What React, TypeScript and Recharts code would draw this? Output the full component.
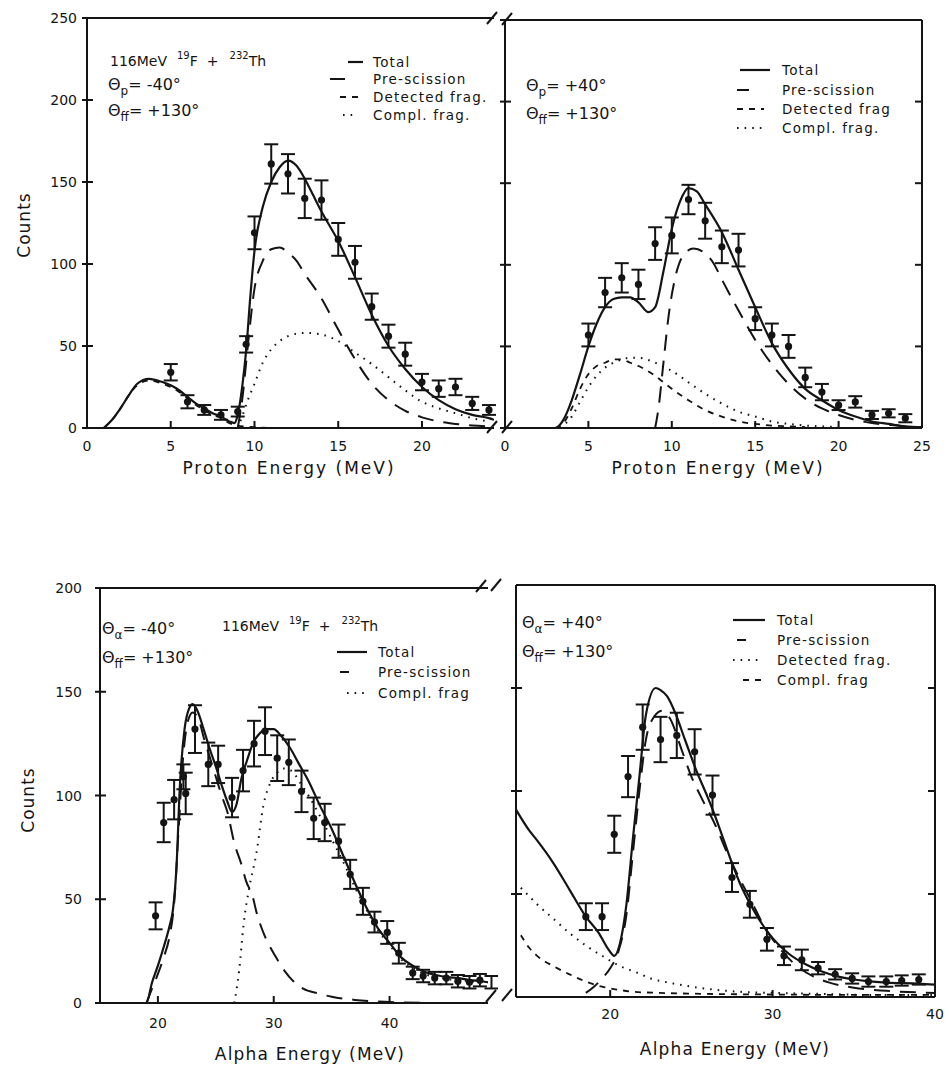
import React from "react";
import { ComposedChart, Line, Scatter, ErrorBar, XAxis, YAxis } from "recharts";

const FONT = "'DejaVu Sans', 'Liberation Sans', sans-serif";
const INK = "#141414";

// ---------- protons, theta_p = -40 (top left) ----------
const tlPoints: [number, number, number][] = [
  [5, 34, 5], [6, 16, 4], [7, 11, 3], [8, 8, 3], [9, 10, 3], [9.5, 51, 5],
  [10, 119, 10], [11, 161, 12], [12, 155, 12], [13, 140, 12], [14, 139, 12],
  [15, 115, 10], [16, 101, 10], [17, 74, 8], [18, 56, 7], [19, 45, 7],
  [20, 28, 5], [21, 24, 5], [22, 25, 5], [23, 15, 4], [24, 11, 3],
];
const tlTotal: [number, number][] = [
  [1, 0], [1.5, 5], [2, 12], [2.5, 20], [3, 27], [3.7, 30], [4.5, 28], [5, 26],
  [5.5, 23], [6, 19], [6.5, 15], [7, 12], [7.5, 9], [8, 7], [8.5, 4], [8.8, 3],
  [9, 8], [9.3, 28], [9.5, 47], [9.75, 80], [10, 108], [10.5, 135], [11, 150],
  [11.5, 159], [12, 163], [12.5, 160], [13, 152], [13.5, 142], [14, 132],
  [15, 114], [16, 92], [17, 69], [18, 50], [19, 36], [20, 25], [21, 17],
  [22, 11.5], [23, 8], [24, 6], [24.3, 5],
];
const tlPre: [number, number][] = [
  [9, 0], [9.3, 20], [9.6, 50], [10, 85], [10.5, 102], [11, 109], [11.5, 110],
  [12, 107], [12.5, 102], [13, 94], [14, 79], [15, 60], [16, 42], [17, 27],
  [18, 17], [19, 10.5], [20, 6.5], [21, 4], [22, 2.5], [23, 1.5], [24, 1],
];
const tlDetected: [number, number][] = [
  [1, 0], [1.5, 5], [2, 12], [2.5, 20], [3, 26], [3.7, 29], [4.5, 27], [5, 25],
  [5.5, 22], [6, 18], [6.5, 14], [7, 11], [7.5, 8], [8, 6], [8.5, 3], [9, 1.5],
  [10, 0.5], [11, 0],
];
const tlCompl: [number, number][] = [
  [9, 0], [9.3, 8], [9.6, 17], [10, 27], [10.5, 40], [11, 48], [11.5, 53],
  [12, 56], [13, 58], [14, 57], [15, 53], [16, 46], [17, 39], [18, 31],
  [19, 23], [20, 16], [21, 12], [22, 9], [23, 6], [24, 4],
];

// ---------- protons, theta_p = +40 (top right) ----------
const trPoints: [number, number, number][] = [
  [5, 57, 7], [6, 83, 9], [7, 92, 9], [8, 88, 9], [9, 113, 10], [10, 118, 11],
  [11, 140, 9], [12, 127, 11], [13, 111, 10], [14, 109, 10], [15, 67, 7],
  [16, 57, 7], [17, 50, 7], [18, 31, 6], [19, 22, 5], [20, 14, 3], [21, 16, 3.5],
  [22, 8, 2.5], [23, 9, 2.5], [24, 6, 2.5],
];
const trTotal: [number, number][] = [
  [0, 0], [3, 0], [3.5, 5], [4, 17], [4.5, 33], [5, 50], [5.5, 64], [6, 74],
  [6.5, 79], [7, 80], [7.5, 80], [8, 77], [8.6, 71], [9, 74], [9.5, 96],
  [10, 122], [10.5, 139], [11, 147], [11.5, 145], [12, 137], [13, 120],
  [14, 97], [15, 74], [16, 52], [17, 36], [18, 24], [19, 17], [20, 11], [21, 7],
  [22, 4], [23, 2.5], [24, 1], [25, 0.5],
];
const trPre: [number, number][] = [
  [9, 0], [9.2, 12], [9.5, 40], [9.8, 68], [10.2, 92], [10.7, 106], [11.3, 110],
  [12, 107], [12.5, 101], [13, 91], [14, 72], [15, 54], [16, 39], [17, 27],
  [18, 18], [19, 12], [20, 8], [21, 5], [22, 3], [23, 2], [24, 1], [25, 0.5],
];
const trDetected: [number, number][] = [
  [3, 0], [3.5, 3], [4, 12], [4.5, 24], [5, 33], [5.5, 38], [6, 40], [6.5, 42],
  [7, 42], [7.5, 40], [8, 38], [9, 32], [10, 24], [11, 17], [12, 11], [13, 7],
  [14, 4], [15, 2.5], [16, 1.5], [17, 1], [18, 0.5],
];
const trCompl: [number, number][] = [
  [3.3, 0], [4, 7], [4.5, 16], [5, 25], [5.5, 32], [6, 37], [6.5, 40], [7, 42],
  [7.5, 43], [8, 43], [9, 40], [10, 35], [11, 28], [12, 21], [13, 15], [14, 10],
  [15, 7], [16, 4], [17, 2.5], [18, 1.5], [19, 1], [20, 0.5],
];

// ---------- alphas, theta_a = -40 (bottom left) ----------
const blPoints: [number, number, number][] = [
  [19.8, 42, 6.5], [20.5, 87, 9.5], [21.4, 98, 9.5], [22.2, 109, 6], [22.4, 101, 10],
  [23.2, 132, 11.5], [24.35, 115, 10.5], [25.2, 115, 9], [26.4, 99, 9.5],
  [27.35, 112, 10], [28.3, 125, 11], [29.25, 131, 11.5], [30.3, 118, 11],
  [31.3, 116, 11], [32.4, 102, 10], [33.45, 89, 10], [34.4, 87, 9], [35.6, 78, 8],
  [36.6, 62, 7], [37.7, 49, 6.5], [38.7, 39, 5], [39.8, 34, 5.5], [40.8, 24, 5],
  [42, 14.5, 3], [42.9, 13, 3], [43.9, 12, 3], [44.9, 12, 3], [45.9, 10.5, 3],
  [46.9, 10, 3], [47.8, 11, 3], [48.8, 10, 3],
];
const blTotal: [number, number][] = [
  [15, 0], [19, 0], [19.5, 10], [20, 18], [20.5, 27], [21, 37], [21.3, 45],
  [21.6, 65], [21.9, 105], [22.3, 132], [22.7, 142], [23, 144], [23.4, 141],
  [24, 131], [24.5, 122], [25, 114], [25.5, 105], [26, 97], [26.4, 92],
  [26.8, 96], [27.2, 108], [27.7, 117], [28.2, 125], [28.8, 130], [29.4, 132],
  [30, 132], [30.6, 129], [31.4, 123], [32.2, 115], [33, 107], [34, 95],
  [35, 84], [36, 71], [37, 58], [38, 46], [39, 36], [40, 29], [41, 22], [42, 18],
  [43, 15], [44, 13.5], [45, 12.5], [46, 12], [47, 11], [48, 10.5], [48.5, 10],
];
const blPre: [number, number][] = [
  [19, 0], [19.5, 7], [20, 14], [20.5, 22], [21, 32], [21.4, 48], [21.8, 85],
  [22.2, 120], [22.6, 136], [23, 140], [23.5, 137], [24, 127], [24.5, 118],
  [25, 109], [25.5, 100], [26, 92], [26.6, 77], [27.2, 67], [27.6, 59],
  [28.2, 51], [28.5, 44], [29.1, 34], [30.2, 22], [31, 15], [31.6, 11],
  [32.5, 7], [33.9, 4.5], [35, 3], [37, 1.5], [40, 0.5], [44, 0],
];
const blCompl: [number, number][] = [
  [26.6, 0], [27, 15], [27.4, 38], [27.9, 56], [28.5, 72], [29.1, 95],
  [29.7, 106], [30.3, 111], [30.8, 113], [31.5, 112], [32.3, 106], [33, 100],
  [34, 90], [35, 79], [36, 68], [37, 56], [38, 45], [39, 35], [40, 28], [41, 21],
  [42, 17], [43, 14], [44, 12.5], [45, 11.5], [46, 11], [47, 10.5], [48.5, 10],
];

// ---------- alphas, theta_a = +40 (bottom right) ----------
const brPoints: [number, number, number][] = [
  [18.5, 39, 6.5], [19.5, 39, 6.5], [20.25, 79, 9], [21.1, 107, 10], [22, 131, 11],
  [23.1, 125, 11], [24.1, 127, 11], [25.2, 119, 11], [26.3, 98, 9.5],
  [27.5, 58, 7], [28.6, 45, 6.5], [29.65, 28, 5.5], [30.7, 20, 4.5],
  [31.8, 18, 5], [32.8, 14, 3], [33.85, 11, 2.5], [34.9, 9, 2.5], [35.9, 7.5, 2.5],
  [37, 7.5, 2.5], [37.95, 8, 2.5], [39, 8.5, 2.5],
];
const brTotal: [number, number][] = [
  [14.2, 91], [15, 81], [15.5, 76], [16.5, 65], [17.5, 52], [18.5, 39],
  [19.3, 31], [19.9, 23], [20.25, 20], [20.6, 26], [21, 45], [21.4, 77],
  [21.8, 107], [22.2, 137], [22.8, 150], [23.1, 149], [23.5, 146], [24, 138],
  [24.6, 125], [25.3, 110], [26, 97], [26.5, 87], [27, 76], [27.5, 65], [28, 55],
  [28.7, 44], [29.75, 31], [31, 21], [32, 16], [33, 12.5], [34, 10], [35, 8.5],
  [37, 7], [39, 6.5], [40, 6],
];
const brPre: [number, number][] = [
  [18.5, 2], [19, 5], [19.5, 9], [20, 14], [20.5, 22], [21, 40], [21.4, 70],
  [21.8, 100], [22.2, 125], [22.7, 136], [23.2, 139], [23.7, 135], [24.4, 120],
  [25, 107], [25.6, 97], [26.5, 83], [27.2, 70], [28, 57], [28.6, 48],
  [29.5, 34], [30.5, 23], [31.5, 15], [32.5, 10], [33.5, 7], [35, 4.5],
  [37, 3], [40, 2],
];
const brDetected: [number, number][] = [
  [14.5, 53], [15, 49], [15.5, 45], [16.5, 38], [17.5, 31], [18.5, 25],
  [19.5, 20], [20.6, 15], [21.6, 12], [22.5, 9], [23.6, 7], [25, 5],
  [26.5, 3.5], [28, 2.5], [30, 2], [33, 1.5], [36, 1], [40, 1],
];
const brCompl: [number, number][] = [
  [14.5, 30], [15, 24], [15.5, 20], [16.5, 15], [17.5, 11], [18.5, 7.5],
  [19.5, 5], [20.5, 3.5], [21.5, 2.5], [23, 2], [26, 1.5], [30, 1.2], [35, 1],
  [40, 1],
];

// tick values
const protonLabelsL = [0, 5, 10, 15, 20];
const protonLabelsR = [0, 5, 10, 15, 20, 25];
const protonTop = [5, 10, 15, 20];
const protonCounts = [0, 50, 100, 150, 200, 250];
const alphaLabels = [20, 30, 40];
const alphaCounts = [0, 50, 100, 150, 200];

const STYLE: Record<string, { dash?: string; w: number }> = {
  total: { w: 2.2 },
  pre: { dash: "16 10", w: 2 },
  dash: { dash: "6 6", w: 1.8 },
  dot: { dash: "1.6 6", w: 2 },
};

const toLine = (pairs: [number, number][]) => pairs.map(([x, y]) => ({ x, y }));
const toPoints = (rows: [number, number, number][]) =>
  rows.map(([x, y, err]) => ({ x, y, err }));

function BottomTick(props: any) {
  const { x, y, payload, labelDy } = props;
  return (
    <g>
      <line x1={x} x2={x} y1={y} y2={y - 7} stroke={INK} strokeWidth={2} />
      <text x={x} y={y + labelDy} textAnchor="middle" fontSize={14} fontFamily={FONT} fill={INK}>
        {payload.value}
      </text>
    </g>
  );
}

function TopTick(props: any) {
  const { x, y } = props;
  return <line x1={x} x2={x} y1={y} y2={y + 7} stroke={INK} strokeWidth={2} />;
}

function LeftTick(props: any) {
  const { x, y, payload, showLabel, gap } = props;
  return (
    <g>
      <line x1={x - 5} x2={x + 6} y1={y} y2={y} stroke={INK} strokeWidth={2} />
      {showLabel && (
        <text x={x - gap} y={y + 5} textAnchor="end" fontSize={14} fontFamily={FONT} fill={INK}>
          {payload.value}
        </text>
      )}
    </g>
  );
}

function RightTick(props: any) {
  const { x, y } = props;
  return <line x1={x} x2={x - 7} y1={y} y2={y} stroke={INK} strokeWidth={2} />;
}

const Marker = (props: any) => <circle cx={props.cx} cy={props.cy} r={3.6} fill={INK} />;

type Curve = { data: [number, number][]; kind: string };

type PanelProps = {
  left: number;
  top: number;
  width: number;
  height: number;
  xDomain: [number, number];
  yDomain: [number, number];
  xLabels: number[];
  topTicks: number[];
  leftTicks: number[];
  showYLabels: boolean;
  yGap: number;
  labelDy: number;
  rightTicks: number[] | null;
  curves: Curve[];
  points: [number, number, number][];
};

function Panel(p: PanelProps) {
  const L = 50, R = 10, T = 10, B = 32;
  const axisLine = { stroke: INK, strokeWidth: 2 };
  return (
    <div style={{ position: "absolute", left: p.left - L, top: p.top - T }}>
      <ComposedChart
        width={p.width + L + R}
        height={p.height + T + B}
        margin={{ top: 0, right: 0, bottom: 0, left: 0 }}
      >
        <XAxis
          xAxisId="b"
          type="number"
          dataKey="x"
          domain={p.xDomain}
          ticks={p.xLabels}
          interval={0}
          height={B}
          allowDataOverflow
          tickSize={0}
          tickMargin={0}
          tickLine={false}
          axisLine={axisLine}
          tick={(t: any) => <BottomTick {...t} labelDy={p.labelDy} />}
        />
        <XAxis
          xAxisId="t"
          orientation="top"
          type="number"
          domain={p.xDomain}
          ticks={p.topTicks}
          interval={0}
          height={T}
          allowDataOverflow
          tickSize={0}
          tickMargin={0}
          tickLine={false}
          axisLine={axisLine}
          tick={(t: any) => <TopTick {...t} />}
        />
        <YAxis
          yAxisId="l"
          type="number"
          domain={p.yDomain}
          ticks={p.leftTicks}
          interval={0}
          width={L}
          allowDataOverflow
          tickSize={0}
          tickMargin={0}
          tickLine={false}
          axisLine={axisLine}
          tick={(t: any) => <LeftTick {...t} showLabel={p.showYLabels} gap={p.yGap} />}
        />
        <YAxis
          yAxisId="r"
          orientation="right"
          type="number"
          domain={p.yDomain}
          ticks={p.rightTicks ?? []}
          interval={0}
          width={R}
          allowDataOverflow
          tickSize={0}
          tickMargin={0}
          tickLine={false}
          axisLine={p.rightTicks ? axisLine : false}
          tick={p.rightTicks ? (t: any) => <RightTick {...t} /> : false}
        />
        {p.curves.map((c, i) => (
          <Line
            key={i}
            xAxisId="b"
            yAxisId="l"
            data={toLine(c.data)}
            dataKey="y"
            type="monotone"
            dot={false}
            activeDot={false}
            stroke={INK}
            strokeWidth={STYLE[c.kind].w}
            strokeDasharray={STYLE[c.kind].dash}
            isAnimationActive={false}
          />
        ))}
        <Scatter
          xAxisId="b"
          yAxisId="l"
          data={toPoints(p.points)}
          dataKey="y"
          shape={Marker}
          isAnimationActive={false}
        >
          <ErrorBar dataKey="err" direction="y" width={7} stroke={INK} strokeWidth={2} />
        </Scatter>
      </ComposedChart>
    </div>
  );
}

function LegendRow({ x1, x2, y, kind, tx, label }: any) {
  const s = STYLE[kind];
  return (
    <g>
      <line x1={x1} x2={x2} y1={y} y2={y} stroke={INK} strokeWidth={s.w} strokeDasharray={s.dash} />
      <text x={tx} y={y + 5} fontSize={13.5} letterSpacing={1.2} fontFamily={FONT} fill={INK}>
        {label}
      </text>
    </g>
  );
}

function Theta({ x, y, sub, value }: any) {
  return (
    <text x={x} y={y} fontSize={16} fontFamily={FONT} fill={INK}>
      Θ
      <tspan dy={5} fontSize={12}>{sub}</tspan>
      <tspan dy={-5}>{"= " + value}</tspan>
    </text>
  );
}

function Reaction({ x, y }: any) {
  return (
    <text x={x} y={y} fontSize={14} fontFamily={FONT} fill={INK}>
      116MeV
      <tspan dx={10} dy={-7} fontSize={10}>19</tspan>
      <tspan dy={7}>F</tspan>
      <tspan dx={9}>+</tspan>
      <tspan dx={11} dy={-7} fontSize={10}>232</tspan>
      <tspan dy={7}>Th</tspan>
    </text>
  );
}

function Slash({ x, y }: { x: number; y: number }) {
  return <line x1={x} y1={y + 6} x2={x + 10} y2={y - 6} stroke={INK} strokeWidth={2} />;
}

export default function App() {
  return (
    <div style={{ position: "absolute", left: 0, top: 0, width: 949, height: 1068, background: "#fff" }}>
      <Panel
        left={87} top={18} width={407} height={410}
        xDomain={[0, 24.3]} yDomain={[0, 250]}
        xLabels={protonLabelsL} topTicks={protonTop}
        leftTicks={protonCounts} showYLabels yGap={10} labelDy={23}
        rightTicks={null}
        curves={[
          { data: tlTotal, kind: "total" },
          { data: tlPre, kind: "pre" },
          { data: tlDetected, kind: "dash" },
          { data: tlCompl, kind: "dot" },
        ]}
        points={tlPoints}
      />
      <Panel
        left={505} top={20} width={417} height={408}
        xDomain={[0, 25]} yDomain={[0, 250]}
        xLabels={protonLabelsR} topTicks={protonTop}
        leftTicks={protonCounts} showYLabels={false} yGap={10} labelDy={23}
        rightTicks={[50, 100, 150, 200]}
        curves={[
          { data: trTotal, kind: "total" },
          { data: trPre, kind: "pre" },
          { data: trDetected, kind: "dash" },
          { data: trCompl, kind: "dot" },
        ]}
        points={trPoints}
      />
      <Panel
        left={100} top={588} width={388} height={415}
        xDomain={[15, 48.5]} yDomain={[0, 200]}
        xLabels={alphaLabels} topTicks={alphaLabels}
        leftTicks={alphaCounts} showYLabels yGap={18} labelDy={25}
        rightTicks={null}
        curves={[
          { data: blTotal, kind: "total" },
          { data: blPre, kind: "pre" },
          { data: blCompl, kind: "dot" },
        ]}
        points={blPoints}
      />
      <Panel
        left={516} top={585} width={419} height={412}
        xDomain={[14.2, 40]} yDomain={[0, 200]}
        xLabels={alphaLabels} topTicks={[20, 30]}
        leftTicks={[50, 100, 150]} showYLabels={false} yGap={10} labelDy={22}
        rightTicks={[50, 100, 150]}
        curves={[
          { data: brTotal, kind: "total" },
          { data: brPre, kind: "pre" },
          { data: brDetected, kind: "dot" },
          { data: brCompl, kind: "dash" },
        ]}
        points={brPoints}
      />

      <svg width={949} height={1068} style={{ position: "absolute", left: 0, top: 0, pointerEvents: "none" }}>
        {/* axis titles */}
        <text x={289} y={474} textAnchor="middle" fontSize={17} letterSpacing={2} fontFamily={FONT} fill={INK}>Proton Energy (MeV)</text>
        <text x={718} y={474} textAnchor="middle" fontSize={17} letterSpacing={2} fontFamily={FONT} fill={INK}>Proton Energy (MeV)</text>
        <text x={310} y={1060} textAnchor="middle" fontSize={17} letterSpacing={1.2} fontFamily={FONT} fill={INK}>Alpha Energy (MeV)</text>
        <text x={735} y={1055} textAnchor="middle" fontSize={17} letterSpacing={1.2} fontFamily={FONT} fill={INK}>Alpha Energy (MeV)</text>
        <text transform="translate(30,225) rotate(-90)" textAnchor="middle" fontSize={17} letterSpacing={1} fontFamily={FONT} fill={INK}>Counts</text>
        <text transform="translate(34,800) rotate(-90)" textAnchor="middle" fontSize={17} letterSpacing={1} fontFamily={FONT} fill={INK}>Counts</text>

        {/* top left annotations */}
        <Reaction x={110} y={66} />
        <Theta x={108} y={90} sub="p" value="-40°" />
        <Theta x={108} y={116} sub="ff" value="+130°" />
        <LegendRow x1={348} x2={363} y={62} kind="total" tx={373} label="Total" />
        <LegendRow x1={330} x2={345} y={79} kind="pre" tx={373} label="Pre-scission" />
        <LegendRow x1={340} x2={358} y={97} kind="dash" tx={373} label="Detected frag." />
        <LegendRow x1={343} x2={358} y={115} kind="dot" tx={373} label="Compl. frag." />

        {/* top right annotations */}
        <Theta x={526} y={91} sub="p" value="+40°" />
        <Theta x={526} y={119} sub="ff" value="+130°" />
        <LegendRow x1={740} x2={770} y={70} kind="total" tx={782} label="Total" />
        <LegendRow x1={737} x2={749} y={90} kind="pre" tx={782} label="Pre-scission" />
        <LegendRow x1={737} x2={764} y={109} kind="dash" tx={782} label="Detected frag" />
        <LegendRow x1={737} x2={764} y={128} kind="dot" tx={782} label="Compl. frag." />

        {/* bottom left annotations */}
        <Theta x={102} y={634} sub="α" value="-40°" />
        <Reaction x={222} y={631} />
        <Theta x={102} y={663} sub="ff" value="+130°" />
        <LegendRow x1={337} x2={367} y={652} kind="total" tx={378} label="Total" />
        <LegendRow x1={340} x2={349} y={672} kind="pre" tx={378} label="Pre-scission" />
        <LegendRow x1={347} x2={364} y={693} kind="dot" tx={378} label="Compl. frag" />

        {/* bottom right annotations */}
        <Theta x={522} y={628} sub="α" value="+40°" />
        <Theta x={522} y={657} sub="ff" value="+130°" />
        <LegendRow x1={733} x2={765} y={620} kind="total" tx={777} label="Total" />
        <LegendRow x1={737} x2={746} y={640} kind="pre" tx={777} label="Pre-scission" />
        <LegendRow x1={733} x2={761} y={660} kind="dot" tx={777} label="Detected frag." />
        <LegendRow x1={743} x2={761} y={680} kind="dash" tx={777} label="Compl. frag" />

        {/* axis break marks */}
        <Slash x={487} y={18} />
        <Slash x={502} y={19} />
        <Slash x={487} y={427} />
        <Slash x={502} y={427} />
        <Slash x={476} y={586} />
        <Slash x={491} y={585} />
        <Slash x={486} y={996} />
        <Slash x={502} y={995} />
      </svg>
    </div>
  );
}
